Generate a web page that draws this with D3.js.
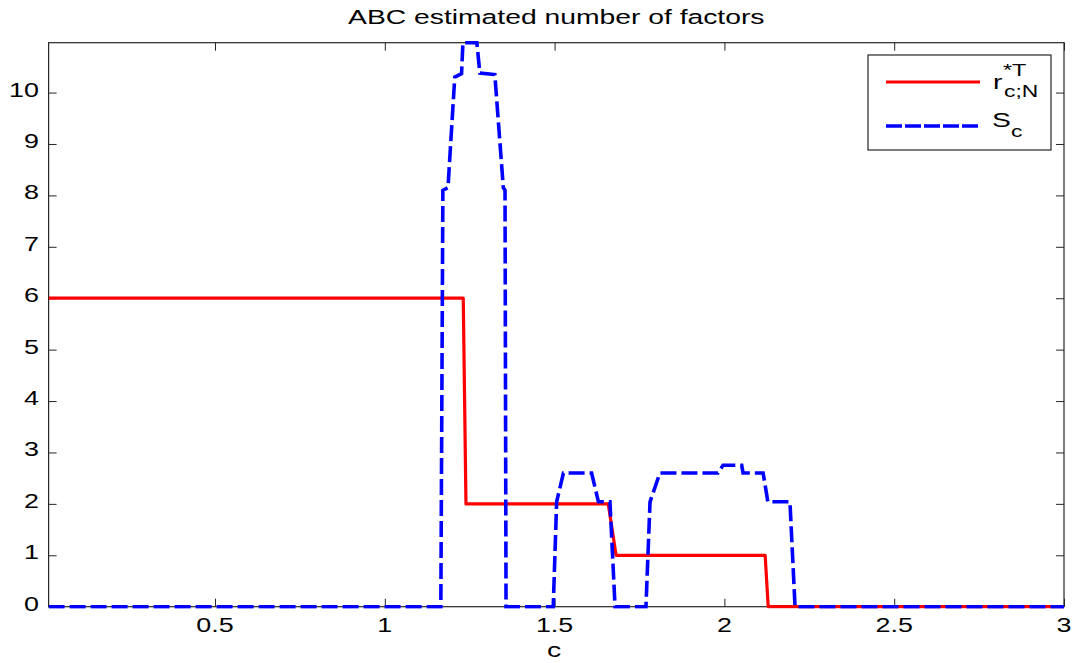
<!DOCTYPE html>
<html><head><meta charset="utf-8">
<script src="https://cdn.jsdelivr.net/npm/d3@7"></script>
<style>html,body{margin:0;padding:0;background:#fff;}svg{display:block;}</style>
</head><body>
<script>
// ---- data ----
const titleText = "ABC estimated number of factors";
const xLabel = "c";
const xTicks = [0.5, 1, 1.5, 2, 2.5, 3];
const yTicks = [0, 1, 2, 3, 4, 5, 6, 7, 8, 9, 10];
const xDomain = [0.01, 3];
const yDomain = [0, 10.97];
// r_{c;N}^{*T} : step line vertices
const rC = [0.01, 1.231, 1.239, 1.658, 1.681, 2.120, 2.129, 3];
const rV = [6, 6, 2, 2, 1, 1, 0, 0];
// S_c : dashed line vertices
const sC = [0.01, 1.165, 1.171, 1.186, 1.206, 1.226, 1.230, 1.271, 1.280, 1.324, 1.349, 1.354, 1.357,
            1.496, 1.506, 1.526, 1.609, 1.629, 1.663, 1.678,
            1.769, 1.781, 1.810, 1.981, 1.996, 2.051, 2.055, 2.114, 2.128, 2.193, 2.208, 3];
const sV = [0, 0, 8.1, 8.15, 10.3, 10.37, 10.97, 10.97, 10.38, 10.35, 8.15, 8.1, 0,
            0, 2.04, 2.6, 2.6, 2.04, 2.04, 0,
            0, 2.04, 2.6, 2.6, 2.75, 2.75, 2.6, 2.6, 2.04, 2.04, 0, 0];

// ---- layout ----
const W = 1076, H = 663;
const L = 48.6, R = 1064, T = 42.7, B = 606.7;
const SX = 1.38; // horizontal text stretch of the reference
const FONT = "'Liberation Sans', Arial, Helvetica, sans-serif";
const AX = "#262626";

const svg = d3.select("body").append("svg").attr("width", W).attr("height", H);
const x = d3.scaleLinear().domain(xDomain).range([L, R]);
const y = d3.scaleLinear().domain(yDomain).range([B, T]);

function txt(g, s, px, py, size, anchor) {
  return g.append("text")
    .attr("transform", `translate(${px},${py}) scale(${SX},1)`)
    .attr("font-family", FONT).attr("font-size", size)
    .attr("text-anchor", anchor || "middle").attr("fill", "#000").text(s);
}

// axes: bottom/left with labels, top/right ticks only (MATLAB box)
const tl = 8;
const gB = svg.append("g").attr("transform", `translate(0,${B})`)
  .call(d3.axisBottom(x).tickValues(xTicks).tickSize(-tl).tickFormat(""));
const gT = svg.append("g").attr("transform", `translate(0,${T})`)
  .call(d3.axisTop(x).tickValues(xTicks).tickSize(-tl).tickFormat(""));
const gL = svg.append("g").attr("transform", `translate(${L},0)`)
  .call(d3.axisLeft(y).tickValues(yTicks).tickSize(-tl).tickFormat(""));
const gR = svg.append("g").attr("transform", `translate(${R},0)`)
  .call(d3.axisRight(y).tickValues(yTicks).tickSize(-tl).tickFormat(""));
[gB, gT, gL, gR].forEach(g => {
  g.select(".domain").remove();
  g.selectAll(".tick line").attr("stroke", AX).attr("stroke-width", 1);
});
svg.append("rect").attr("x", L).attr("y", T).attr("width", R - L).attr("height", B - T)
  .attr("fill", "none").attr("stroke", AX).attr("stroke-width", 1.2);

// tick labels
xTicks.forEach(v => txt(svg, String(v), x(v), 632, 19.5, "middle"));
yTicks.forEach(v => txt(svg, String(v), 39, y(v) + 4, 19.5, "end"));

// lines (clipped to the axes)
svg.append("clipPath").attr("id", "clip").append("rect")
  .attr("x", L).attr("y", T - 2).attr("width", R - L).attr("height", B - T + 4);
const plot = svg.append("g").attr("clip-path", "url(#clip)");
const line = d3.line().x(d => x(d[0])).y(d => y(d[1]));
plot.append("path").datum(rC.map((c, i) => [c, rV[i]])).attr("d", line)
  .attr("fill", "none").attr("stroke", "#ff0000").attr("stroke-width", 3.2)
  .attr("stroke-linejoin", "round");
plot.append("path").datum(sC.map((c, i) => [c, sV[i]])).attr("d", line)
  .attr("fill", "none").attr("stroke", "#0000ff").attr("stroke-width", 3.6)
  .attr("stroke-dasharray", "16,5");

// title and x label
txt(svg, titleText, (L + R) / 2, 23.5, 20.5, "middle");
txt(svg, xLabel, 554, 657, 20.5, "middle");

// legend
const lg = svg.append("g");
lg.append("rect").attr("x", 868).attr("y", 55).attr("width", 183).attr("height", 95)
  .attr("fill", "#fff").attr("stroke", AX).attr("stroke-width", 1.2);
lg.append("line").attr("x1", 886).attr("x2", 980).attr("y1", 82).attr("y2", 82)
  .attr("stroke", "#ff0000").attr("stroke-width", 3.2);
lg.append("line").attr("x1", 886).attr("x2", 980).attr("y1", 126).attr("y2", 126)
  .attr("stroke", "#0000ff").attr("stroke-width", 3.6).attr("stroke-dasharray", "16,3");
txt(lg, "r", 993, 88.5, 20.5, "start");
txt(lg, "*T", 1003, 76, 17, "start");
txt(lg, "c;N", 1004, 97, 16.5, "start");
txt(lg, "S", 992, 127, 20.5, "start");
txt(lg, "c", 1011, 137, 16.5, "start");
</script>
</body></html>
